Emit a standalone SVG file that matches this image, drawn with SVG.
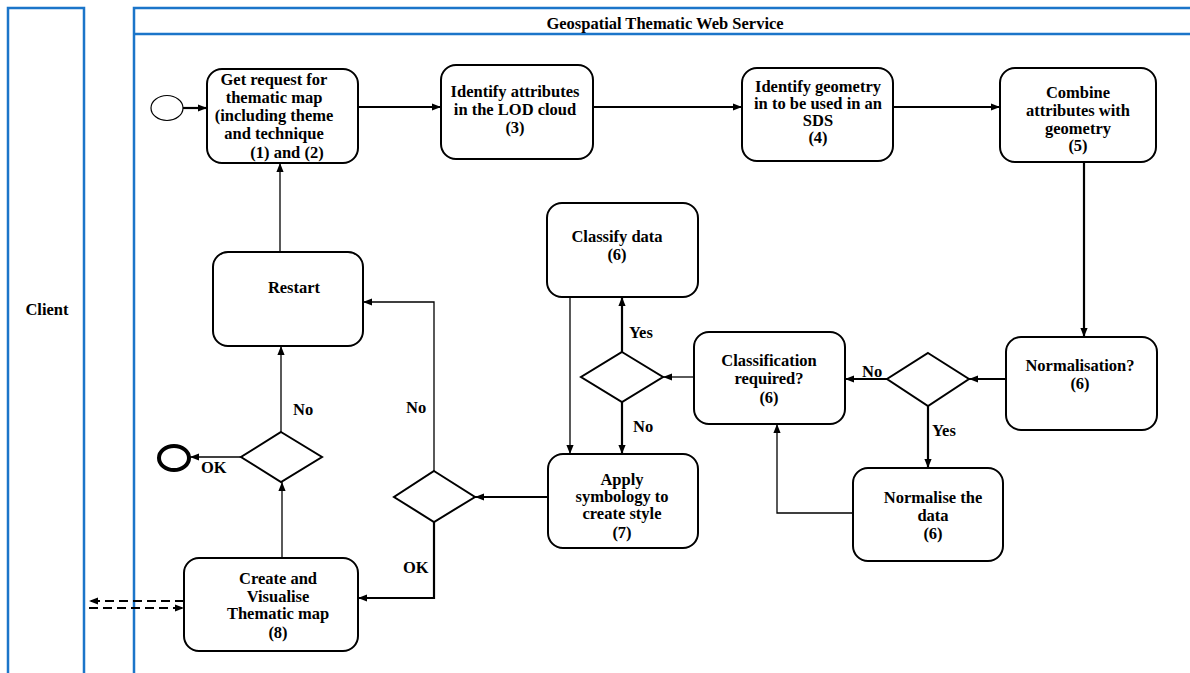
<svg xmlns="http://www.w3.org/2000/svg" width="1190" height="673" viewBox="0 0 1190 673">
  <style>
    .lane { fill: none; stroke: #1b75c9; stroke-width: 2.5; }
    .box { fill: #fff; stroke: #000; stroke-width: 2; }
    .dia { fill: #fff; stroke: #000; stroke-width: 2; }
    .t { font-family: "Liberation Serif", "Times New Roman", serif; font-weight: bold; font-size: 16.5px; fill: #000; text-anchor: middle; }
    .lbl { font-family: "Liberation Serif", "Times New Roman", serif; font-weight: bold; font-size: 16.5px; fill: #000; }
    .thick { fill: none; stroke: #000; stroke-width: 2.2; marker-end: url(#ah); }
    .thin { fill: none; stroke: #000; stroke-width: 1.3; marker-end: url(#ah); }
    .dash { fill: none; stroke: #000; stroke-width: 2; stroke-dasharray: 9 5; marker-end: url(#ah); }
  </style>
  <defs>
    <marker id="ah" viewBox="0 0 10 10" refX="10" refY="5" markerWidth="9" markerHeight="9" markerUnits="userSpaceOnUse" orient="auto">
      <path d="M0,1 L10,5 L0,9 z" fill="#000"/>
    </marker>
  </defs>

  <rect width="1190" height="673" fill="#fff"/>

  <!-- swimlanes -->
  <g id="lane-client">
    <path class="lane" d="M8,680 V8 H84 V680"/>
    <text class="t" x="47" y="315">Client</text>
  </g>
  <g id="lane-service">
    <path class="lane" d="M134,680 V8 H1195 M134,34 H1195"/>
    <text class="t" x="665" y="29">Geospatial Thematic Web Service</text>
  </g>

  <!-- connectors -->
  <g id="connectors">
    <path class="thick" d="M183,108 H207"/>
    <path class="thick" d="M358,107 H441"/>
    <path class="thick" d="M593,107 H742"/>
    <path class="thick" d="M893,107 H1000"/>
    <path class="thick" d="M1084,162 V337"/>
    <path class="thick" d="M1006,379 H969"/>
    <path class="thick" d="M887,379 H845"/>
    <path class="thick" d="M928,406 V468"/>
    <path class="thin" d="M853,513 H777 V424"/>
    <path class="thin" d="M694,377 H663"/>
    <path class="thick" d="M622,352 V297"/>
    <path class="thick" d="M622,402 V454"/>
    <path class="thin" d="M570,297 V454"/>
    <path class="thick" d="M548,497 H475"/>
    <path class="thin" d="M434,471 V302 H363"/>
    <path class="thick" d="M434,522 V598 H358"/>
    <path class="thin" d="M282,558 V482"/>
    <path class="thin" d="M281,432 V346"/>
    <path class="thin" d="M241,457 H190"/>
    <path class="thin" d="M280,252 V163"/>
    <path class="dash" d="M184,601 H89"/>
    <path class="dash" d="M89,608 H184"/>
  </g>

  <!-- connector labels -->
  <g id="labels">
    <text class="lbl" x="629" y="338">Yes</text>
    <text class="lbl" x="633" y="432">No</text>
    <text class="lbl" x="862" y="377">No</text>
    <text class="lbl" x="932" y="436">Yes</text>
    <text class="lbl" x="293" y="415">No</text>
    <text class="lbl" x="406" y="413">No</text>
    <text class="lbl" x="201" y="473">OK</text>
    <text class="lbl" x="403" y="573">OK</text>
  </g>

  <!-- start / end events -->
  <g id="start">
    <ellipse cx="167" cy="108" rx="16" ry="12.5" fill="#fff" stroke="#000" stroke-width="1.2"/>
  </g>
  <g id="end">
    <ellipse cx="174" cy="458" rx="15" ry="12" fill="#fff" stroke="#000" stroke-width="4"/>
  </g>

  <!-- tasks -->
  <g id="get-request">
    <rect class="box" x="207" y="69" width="151" height="94" rx="15"/>
    <text class="t" x="274" y="85">Get request for</text>
    <text class="t" x="274" y="103">thematic map</text>
    <text class="t" x="274" y="121">(including theme</text>
    <text class="t" x="274" y="139">and technique</text>
    <text class="t" x="287" y="158">(1) and (2)</text>
  </g>
  <g id="identify-attributes">
    <rect class="box" x="441" y="65" width="152" height="94" rx="15"/>
    <text class="t" x="515" y="97">Identify attributes</text>
    <text class="t" x="515" y="115">in the LOD cloud</text>
    <text class="t" x="515" y="133">(3)</text>
  </g>
  <g id="identify-geometry">
    <rect class="box" x="742" y="68" width="151" height="93" rx="15"/>
    <text class="t" x="818" y="92">Identify geometry</text>
    <text class="t" x="818" y="109">in to be used in an</text>
    <text class="t" x="818" y="126">SDS</text>
    <text class="t" x="818" y="143">(4)</text>
  </g>
  <g id="combine">
    <rect class="box" x="1000" y="68" width="156" height="94" rx="15"/>
    <text class="t" x="1078" y="98">Combine</text>
    <text class="t" x="1078" y="116">attributes with</text>
    <text class="t" x="1078" y="134">geometry</text>
    <text class="t" x="1078" y="151">(5)</text>
  </g>
  <g id="normalisation">
    <rect class="box" x="1006" y="337" width="151" height="93" rx="15"/>
    <text class="t" x="1080" y="371">Normalisation?</text>
    <text class="t" x="1080" y="389">(6)</text>
  </g>
  <g id="normalise-data">
    <rect class="box" x="853" y="468" width="150" height="93" rx="15"/>
    <text class="t" x="933" y="503">Normalise the</text>
    <text class="t" x="933" y="521">data</text>
    <text class="t" x="933" y="539">(6)</text>
  </g>
  <g id="classification-required">
    <rect class="box" x="694" y="332" width="151" height="92" rx="15"/>
    <text class="t" x="769" y="366">Classification</text>
    <text class="t" x="769" y="384">required?</text>
    <text class="t" x="769" y="403">(6)</text>
  </g>
  <g id="classify-data">
    <rect class="box" x="547" y="203" width="151" height="94" rx="15"/>
    <text class="t" x="617" y="242">Classify data</text>
    <text class="t" x="617" y="260">(6)</text>
  </g>
  <g id="apply-symbology">
    <rect class="box" x="548" y="454" width="150" height="94" rx="15"/>
    <text class="t" x="622" y="485">Apply</text>
    <text class="t" x="622" y="502">symbology to</text>
    <text class="t" x="622" y="519">create style</text>
    <text class="t" x="622" y="538">(7)</text>
  </g>
  <g id="restart">
    <rect class="box" x="213" y="252" width="150" height="94" rx="15"/>
    <text class="t" x="294" y="293">Restart</text>
  </g>
  <g id="create-visualise">
    <rect class="box" x="184" y="558" width="174" height="93" rx="15"/>
    <text class="t" x="278" y="584">Create and</text>
    <text class="t" x="278" y="602">Visualise</text>
    <text class="t" x="278" y="619">Thematic map</text>
    <text class="t" x="278" y="638">(8)</text>
  </g>

  <!-- gateways -->
  <g id="gw-normalise">
    <polygon class="dia" points="928,353 969,379 928,406 887,379"/>
  </g>
  <g id="gw-classify">
    <polygon class="dia" points="622,352 663,377 622,402 581,377"/>
  </g>
  <g id="gw-style">
    <polygon class="dia" points="434,471 475,497 434,522 394,497"/>
  </g>
  <g id="gw-map">
    <polygon class="dia" points="281,432 322,457 281,482 241,457"/>
  </g>
</svg>
